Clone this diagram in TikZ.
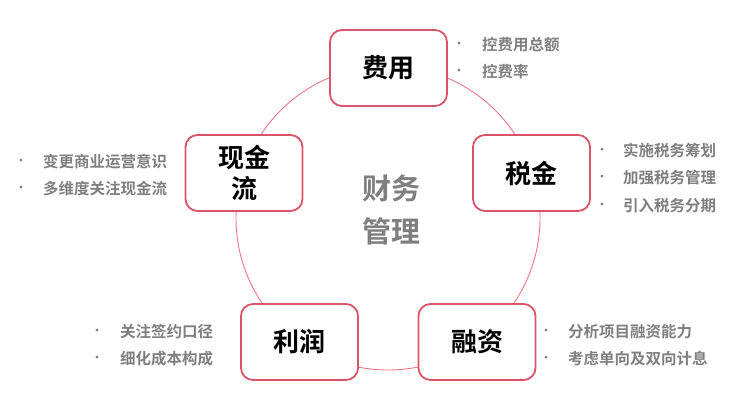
\documentclass[tikz,border=0pt]{standalone}
\usepackage{fontspec}
\setmainfont{Noto Sans CJK SC}[BoldFont={Noto Sans CJK SC Bold}]
\definecolor{boxred}{RGB}{217,84,106}
\definecolor{ringred}{RGB}{236,118,136}
\definecolor{txtgray}{RGB}{127,127,127}
\tikzset{
  topic/.style={draw=boxred, line width=1.8pt, fill=white, rounded corners=12pt,
    minimum width=117pt, minimum height=76pt, align=center, inner sep=0pt,
    font=\fontsize{26}{31}\selectfont\bfseries, text=black},
  bul/.style={inner sep=0pt, text=txtgray, font=\fontsize{13}{13}\selectfont},
  item/.style={anchor=west, inner sep=0pt, text=txtgray, font=\fontsize{15.5}{15.5}\selectfont\bfseries},
  centre/.style={align=center, inner sep=0pt, text=txtgray, font=\fontsize{29}{43}\selectfont\bfseries},
  ring/.style={draw=ringred, line width=0.9pt}
}
\begin{document}
\begin{tikzpicture}[x=1pt,y=-1pt]
\useasboundingbox (0,0) rectangle (748,411);
\coordinate (ringc) at (388,218);
\draw[ring] (ringc) circle[radius=152pt];
\node[centre] (mid) at (391,210) {财务\\管理};
% topics
\node[topic] (fy) at (388.5,68) {费用};
\node[topic] (xj) at (244,173) {现金\\流};
\node[topic] (sj) at (531.5,173) {税金};
\node[topic] (lr) at (299.5,342) {利润};
\node[topic] (rz) at (477,342) {融资};
% 费用
\node[bul] (fyb1) at (459,45) {•};
\node[item] (fyi1) at (482,45) {控费用总额};
\node[bul] (fyb2) at (459,72) {•};
\node[item] (fyi2) at (482,72) {控费率};
% 税金
\node[bul] (sjb1) at (602,151) {•};
\node[item] (sji1) at (623,151) {实施税务筹划};
\node[bul] (sjb2) at (602,178) {•};
\node[item] (sji2) at (623,178) {加强税务管理};
\node[bul] (sjb3) at (602,206) {•};
\node[item] (sji3) at (623,206) {引入税务分期};
% 现金流
\node[bul] (xjb1) at (21,162) {•};
\node[item] (xji1) at (43,162) {变更商业运营意识};
\node[bul] (xjb2) at (21,189) {•};
\node[item] (xji2) at (43,189) {多维度关注现金流};
% 利润
\node[bul] (lrb1) at (97,332) {•};
\node[item] (lri1) at (120,332) {关注签约口径};
\node[bul] (lrb2) at (97,359) {•};
\node[item] (lri2) at (120,359) {细化成本构成};
% 融资
\node[bul] (rzb1) at (546,332) {•};
\node[item] (rzi1) at (568,332) {分析项目融资能力};
\node[bul] (rzb2) at (546,359) {•};
\node[item] (rzi2) at (568,359) {考虑单向及双向计息};
\end{tikzpicture}
\end{document}
